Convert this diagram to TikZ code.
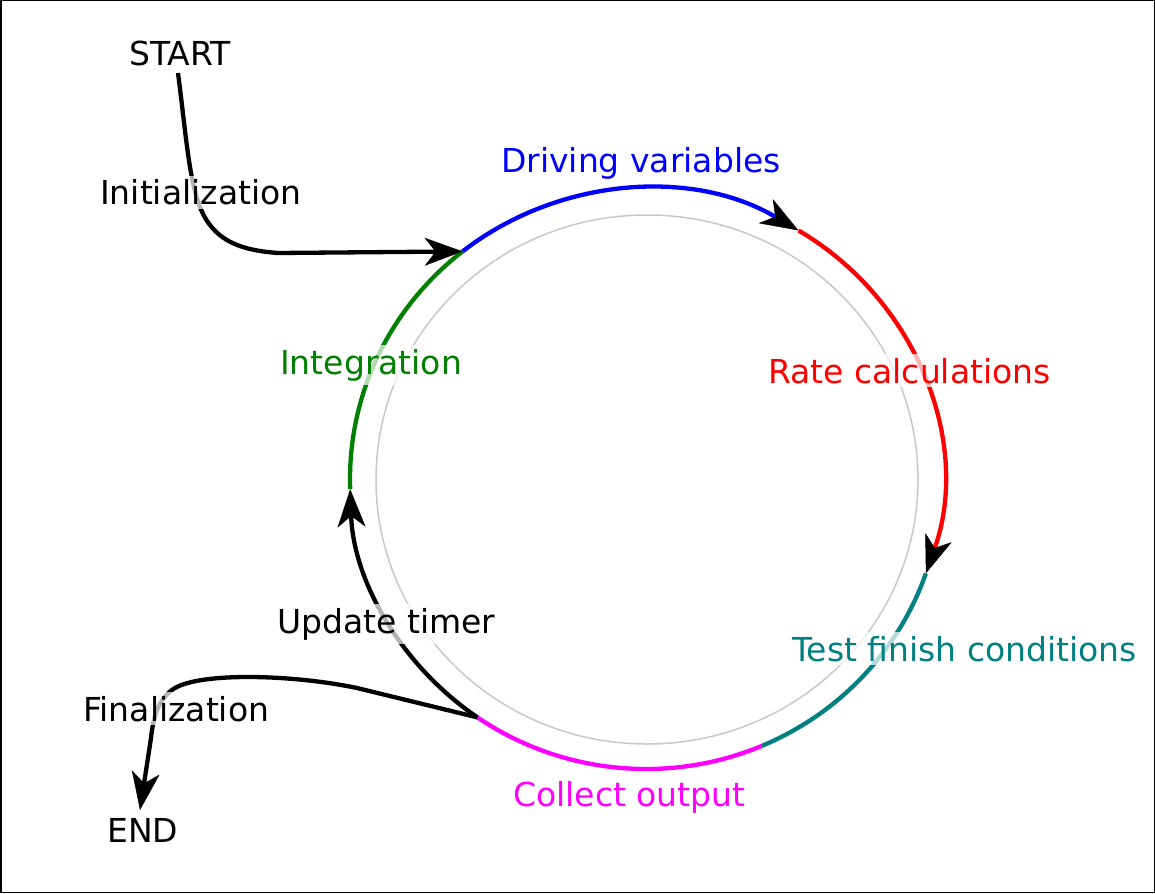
\documentclass[tikz,border=0pt]{standalone}
\usepackage{fontspec}
\setmainfont{DejaVu Sans}
\usetikzlibrary{arrows.meta,calc}
\definecolor{cteal}{RGB}{0,128,128}
\definecolor{cgreen}{RGB}{0,128,0}
\definecolor{cmag}{RGB}{255,0,255}
\definecolor{cblue}{RGB}{0,0,255}
\definecolor{cred}{RGB}{255,0,0}
\definecolor{cgray}{RGB}{200,200,200}
\begin{document}
\begin{tikzpicture}[x=1pt,y=-1pt,
  seg/.style={line width=4.3pt},
  tipend/.style={-{Stealth[length=38pt,width=28pt,inset=11pt,color=black,line width=0.5pt]}},
  lbl/.style={anchor=base west, inner xsep=0pt, inner ysep=4pt, fill=white,
    fill opacity=0.7, text opacity=1, font=\fontsize{33}{40}\selectfont},
]
\useasboundingbox (0,0) rectangle (1155,893);
\fill[white] (0,0) rectangle (1155,893);
\draw[line width=1.5pt] (0.75,0.75) rectangle (1154.25,892.25);

\coordinate (O) at (646,479);
\draw[cgray, line width=1.5pt] (647,479.5) ellipse [x radius=271pt, y radius=264.5pt];

\coordinate (P1) at ($(O)+(128.3:296pt and 290pt)$);
\coordinate (P2) at ($(O)+(59:296pt and 290pt)$);
\coordinate (P3) at ($(O)+(-19:296pt and 290pt)$);
\coordinate (P4) at ($(O)+(-67:296pt and 290pt)$);
\coordinate (P5) at ($(O)+(-124.7:296pt and 290pt)$);
\coordinate (P6) at ($(O)+(-178:296pt and 290pt)$);

% cycle segments
\draw[seg, cblue, tipend] (P1) arc[start angle=128.3, end angle=59, x radius=296pt, y radius=290pt];
\draw[seg, cred, tipend] (P2) arc[start angle=59, end angle=-19, x radius=296pt, y radius=290pt];
\draw[seg, cteal] (P3) arc[start angle=-19, end angle=-67, x radius=296pt, y radius=290pt];
\draw[seg, cmag] (P4) arc[start angle=-67, end angle=-124.7, x radius=296pt, y radius=290pt];
\draw[seg, black, tipend] (P5) arc[start angle=-124.7, end angle=-178, x radius=296pt, y radius=290pt];
\draw[seg, cgreen] (P6) arc[start angle=-178, end angle=-231.7, x radius=296pt, y radius=290pt];

% start / end connectors
\coordinate (s0) at (178,73);
\coordinate (e0) at (140,810);
\draw[seg, tipend] (s0) .. controls (188,150) and (190,200) .. (210,225)
  .. controls (225,245) and (250,251) .. (278,253) -- (P1);
\draw[seg, tipend] (P5) -- (357,688) .. controls (290,674) and (195,672) .. (172,690)
  .. controls (158,700) and (153,718) .. (151,738) -- (e0);

% labels
\node[lbl] (start) at (129,66) {START};
\node[lbl] (init) at (100,205) {Initialization};
\node[lbl, text=cblue] (drive) at (501,173) {Driving variables};
\node[lbl, text=cred] (rate) at (768,383) {Rate calculations};
\node[lbl, text=cgreen] (integ) at (280,374) {Integration};
\node[lbl, text=cteal] (test) at (792,661) {Test finish conditions};
\node[lbl] (upd) at (277,633) {Update timer};
\node[lbl, text=cmag] (coll) at (513,806) {Collect output};
\node[lbl] (fin) at (83,721) {Finalization};
\node[lbl] (endn) at (107,842) {END};
\end{tikzpicture}
\end{document}
